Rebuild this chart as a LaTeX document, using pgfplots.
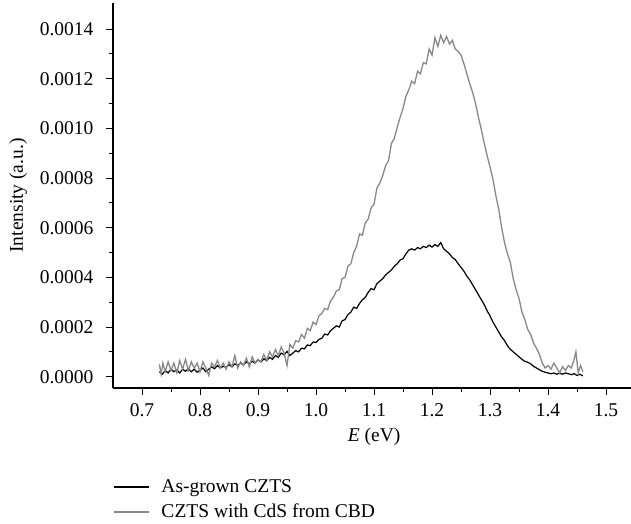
\documentclass[border=0pt]{standalone}
\usepackage{fontspec}
\setmainfont{Liberation Serif}
\usepackage{pgfplots}
\usepackage{pgfplotstable}
\pgfplotsset{compat=1.18}
\definecolor{cdsgray}{RGB}{136,136,136}

\pgfplotstableread{
E I
0.730 0.20
0.735 0.10
0.740 0.25
0.745 0.15
0.750 0.30
0.755 0.20
0.760 0.28
0.765 0.15
0.770 0.30
0.775 0.22
0.780 0.32
0.785 0.20
0.790 0.30
0.795 0.18
0.800 0.26
0.805 0.35
0.810 0.20
0.815 0.30
0.820 0.40
0.825 0.32
0.830 0.45
0.835 0.35
0.840 0.42
0.845 0.38
0.850 0.48
0.855 0.40
0.860 0.52
0.865 0.45
0.870 0.55
0.875 0.48
0.880 0.60
0.885 0.52
0.890 0.62
0.895 0.55
0.900 0.68
0.905 0.60
0.910 0.72
0.915 0.65
0.920 0.78
0.925 0.70
0.930 0.85
0.935 0.78
0.940 0.95
0.945 0.88
0.950 1.02
0.955 0.85
0.960 0.95
0.965 1.05
0.970 1.00
0.975 1.15
0.980 1.12
0.985 1.28
0.990 1.25
0.995 1.40
1.000 1.38
1.005 1.50
1.010 1.55
1.015 1.72
1.020 1.68
1.025 1.85
1.030 1.95
1.035 2.05
1.040 2.00
1.045 2.25
1.050 2.30
1.055 2.50
1.060 2.60
1.065 2.80
1.070 2.75
1.075 2.95
1.080 3.10
1.085 3.20
1.090 3.40
1.095 3.55
1.100 3.50
1.105 3.75
1.110 3.85
1.115 3.95
1.120 4.10
1.125 4.20
1.130 4.30
1.135 4.45
1.140 4.55
1.145 4.70
1.150 4.75
1.155 4.95
1.160 5.10
1.165 5.15
1.170 5.10
1.175 5.20
1.180 5.15
1.185 5.25
1.190 5.20
1.195 5.30
1.200 5.22
1.205 5.32
1.210 5.25
1.215 5.40
1.220 5.15
1.225 5.05
1.230 4.95
1.235 4.80
1.240 4.72
1.245 4.55
1.250 4.40
1.255 4.25
1.260 4.05
1.265 3.90
1.270 3.70
1.275 3.50
1.280 3.30
1.285 3.10
1.290 2.90
1.295 2.65
1.300 2.45
1.305 2.20
1.310 2.00
1.315 1.80
1.320 1.60
1.325 1.45
1.330 1.25
1.335 1.10
1.340 1.00
1.345 0.90
1.350 0.80
1.355 0.70
1.360 0.62
1.365 0.58
1.370 0.52
1.375 0.42
1.380 0.35
1.385 0.28
1.390 0.22
1.395 0.18
1.400 0.15
1.405 0.12
1.410 0.15
1.415 0.10
1.420 0.14
1.425 0.10
1.430 0.15
1.435 0.12
1.440 0.08
1.445 0.12
1.450 0.05
1.455 0.10
1.460 0.03
}\asgrown

\pgfplotstableread{
E I
0.730 0.50
0.733 0.10
0.736 0.55
0.740 0.20
0.745 0.60
0.750 0.25
0.755 0.55
0.760 0.15
0.765 0.65
0.770 0.30
0.775 0.70
0.780 0.25
0.785 0.60
0.790 0.35
0.795 0.55
0.800 0.20
0.805 0.60
0.810 0.35
0.815 0.05
0.820 0.55
0.825 0.40
0.830 0.65
0.835 0.35
0.840 0.55
0.845 0.30
0.850 0.60
0.855 0.40
0.860 0.85
0.865 0.35
0.870 0.60
0.875 0.45
0.880 0.75
0.885 0.40
0.890 0.80
0.895 0.55
0.900 0.70
0.905 0.60
0.910 0.90
0.915 0.65
0.920 1.00
0.925 0.80
0.930 1.10
0.935 0.85
0.940 1.20
0.945 0.95
0.950 0.45
0.955 1.30
0.960 1.15
0.965 1.45
0.970 1.40
0.975 1.70
0.980 1.55
0.985 1.95
0.990 1.85
0.995 2.20
1.000 2.10
1.005 2.45
1.010 2.55
1.015 2.75
1.020 2.70
1.025 3.05
1.030 3.20
1.035 3.45
1.040 3.50
1.045 3.95
1.050 4.00
1.055 4.45
1.060 4.55
1.065 5.00
1.070 5.25
1.075 5.75
1.080 5.70
1.085 6.20
1.090 6.35
1.095 6.80
1.100 6.95
1.105 7.60
1.110 7.80
1.115 8.10
1.120 8.50
1.125 8.70
1.130 9.40
1.135 9.60
1.140 10.05
1.145 10.45
1.150 10.80
1.155 11.30
1.160 11.55
1.165 11.90
1.170 11.80
1.175 12.30
1.180 12.20
1.185 12.65
1.190 12.60
1.195 13.20
1.200 12.95
1.205 13.65
1.210 13.30
1.215 13.75
1.220 13.45
1.225 13.70
1.230 13.40
1.235 13.55
1.240 13.20
1.245 13.10
1.250 12.95
1.255 12.60
1.260 12.20
1.265 11.80
1.270 11.45
1.275 11.00
1.280 10.45
1.285 9.95
1.290 9.40
1.295 8.90
1.300 8.45
1.305 7.95
1.310 7.30
1.315 6.75
1.320 6.00
1.325 5.40
1.330 4.95
1.335 4.60
1.340 3.95
1.345 3.50
1.350 3.15
1.355 2.60
1.360 2.30
1.365 1.90
1.370 1.70
1.375 1.35
1.380 1.15
1.385 0.90
1.390 0.55
1.395 0.35
1.400 0.45
1.405 0.30
1.410 0.55
1.415 0.35
1.420 0.15
1.425 0.40
1.430 0.25
1.435 0.45
1.440 0.35
1.445 0.70
1.448 1.00
1.452 0.15
1.456 0.45
1.460 0.20
}\withcds

\begin{document}
\begin{tikzpicture}
\path[use as bounding box] (-113pt,-136pt) rectangle (518pt,388pt);
\begin{axis}[
  at={(0,0)}, anchor=south west,
  scale only axis, width=518pt, height=385pt,
  xmin=0.65, xmax=1.543,
  ymin=-0.0000455, ymax=0.001505,
  axis x line=bottom, axis y line=left,
  axis line style={-, line width=1.1pt},
  tick align=outside,
  major tick length=7pt, minor tick length=4pt,
  every tick/.style={black, line width=0.9pt},
  xtick={0.7,0.8,...,1.5},
  minor x tick num=1,
  ytick={0,0.0002,...,0.00141},
  minor y tick num=1,
  font=\fontsize{19.5}{23}\selectfont,
  /pgf/number format/assume math mode=true,
  xticklabel style={yshift=-5pt, /pgf/number format/.cd, fixed, fixed zerofill, precision=1},
  yticklabel style={xshift=-9pt, /pgf/number format/.cd, fixed, fixed zerofill, precision=4},
  scaled y ticks=false,
  xlabel={\textit{E} (eV)},
  ylabel={Intensity (a.u.)},
  xlabel style={at={(axis description cs:0.504,-0.127)}, anchor=center},
  ylabel style={at={(axis description cs:-0.183,0.5)}, anchor=center},
  legend style={at={(axis description cs:0,-0.29)}, anchor=west, draw=none,
    fill=none, inner sep=0pt, row sep=10pt,
    font=\fontsize{19.5}{23}\selectfont,
    nodes={inner sep=0pt, anchor=west},
    /tikz/every odd column/.append style={column sep=12pt}},
  legend cell align=left,
  legend image code/.code={\draw[#1] (0pt,0pt) -- (35pt,0pt);},
]
\addplot[black, line width=1.2pt] table[x=E, y expr=\thisrow{I}*0.0001] {\asgrown};
\addlegendentry{As-grown CZTS}
\addplot[cdsgray, line width=1.3pt] table[x=E, y expr=\thisrow{I}*0.0001] {\withcds};
\addlegendentry{CZTS with CdS from CBD}
\end{axis}
\end{tikzpicture}
\end{document}
